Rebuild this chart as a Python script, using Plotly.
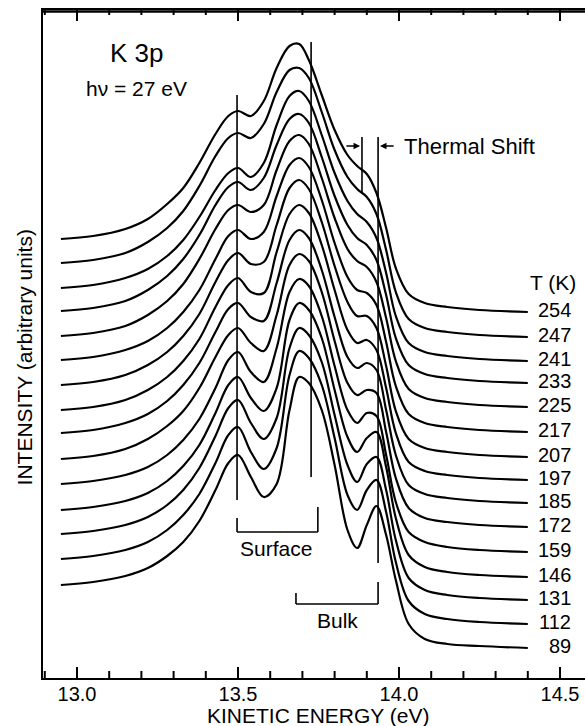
import plotly.graph_objects as go

# Kinetic energy sample points (eV)
energy = [12.95, 13.05, 13.15, 13.22, 13.28, 13.33, 13.38, 13.43, 13.47, 13.50,
          13.54, 13.58, 13.62, 13.66, 13.69, 13.72, 13.76, 13.80, 13.84, 13.87,
          13.90, 13.93, 13.96, 13.99, 14.03, 14.08, 14.15, 14.25, 14.40]

temps = [254, 247, 241, 233, 225, 217, 207, 197, 185, 172, 159, 146, 131, 112, 89]

# Intensity (arbitrary units, stacked as displayed)
i_254 = [461, 464, 471, 481, 496, 512, 537, 566, 584, 589, 584, 599, 632, 654, 656, 640, 605, 570, 545, 534, 526, 507, 472, 432, 406, 397, 393, 390, 388]
i_247 = [437, 440, 447, 458, 472, 489, 514, 544, 562, 567, 562, 576, 608, 630, 632, 622, 588, 550, 523, 511, 503, 486, 450, 408, 381, 372, 368, 365, 363]
i_241 = [412, 415, 422, 431, 444, 460, 483, 510, 527, 532, 523, 537, 575, 604, 609, 599, 565, 527, 499, 486, 478, 462, 427, 384, 357, 348, 344, 341, 339]
i_233 = [389, 392, 399, 410, 424, 441, 465, 495, 513, 518, 510, 522, 555, 581, 586, 577, 543, 504, 475, 462, 455, 440, 405, 362, 335, 326, 322, 319, 317]
i_225 = [364, 367, 374, 385, 399, 416, 441, 471, 490, 495, 488, 495, 530, 559, 565, 556, 522, 482, 451, 439, 433, 418, 382, 339, 311, 302, 298, 295, 293]
i_217 = [340, 343, 350, 359, 372, 388, 410, 441, 464, 470, 461, 468, 504, 535, 542, 533, 500, 457, 423, 410, 407, 395, 358, 314, 286, 277, 273, 270, 268]
i_207 = [315, 318, 325, 335, 348, 364, 386, 418, 440, 447, 436, 438, 475, 512, 520, 511, 478, 434, 398, 384, 384, 372, 334, 289, 261, 252, 248, 245, 243]
i_197 = [290, 293, 300, 310, 323, 339, 361, 393, 415, 422, 408, 407, 448, 486, 495, 487, 455, 410, 370, 357, 360, 350, 312, 267, 238, 229, 225, 222, 220]
i_185 = [267, 270, 277, 286, 299, 315, 337, 368, 391, 397, 383, 379, 417, 460, 470, 462, 430, 383, 343, 332, 337, 330, 290, 245, 215, 206, 202, 199, 197]
i_172 = [241, 244, 251, 261, 274, 289, 312, 343, 365, 372, 357, 349, 385, 435, 446, 439, 408, 359, 317, 305, 310, 307, 268, 222, 192, 182, 178, 175, 173]
i_159 = [216, 219, 225, 233, 245, 260, 281, 312, 340, 348, 328, 318, 352, 408, 421, 414, 384, 334, 290, 277, 287, 284, 245, 198, 168, 158, 153, 150, 148]
i_146 = [190, 193, 199, 207, 219, 234, 255, 287, 315, 323, 302, 289, 312, 380, 397, 390, 362, 310, 263, 248, 262, 268, 233, 182, 145, 133, 128, 125, 123]
i_131 = [166, 169, 175, 183, 195, 210, 232, 264, 292, 300, 277, 261, 282, 352, 372, 365, 338, 285, 235, 218, 236, 243, 210, 160, 122, 110, 105, 102, 100]
i_112 = [141, 144, 150, 158, 170, 185, 206, 237, 265, 273, 248, 231, 252, 325, 349, 342, 315, 262, 205, 190, 210, 220, 188, 138, 99, 86, 81, 78, 76]
i_89 = [115, 118, 124, 132, 144, 158, 179, 210, 237, 245, 223, 203, 216, 290, 323, 317, 290, 235, 170, 152, 175, 194, 165, 120, 76, 61, 56, 54, 52]

spectra = [i_254, i_247, i_241, i_233, i_225, i_217, i_207, i_197,
           i_185, i_172, i_159, i_146, i_131, i_112, i_89]

major_ticks = [13.0, 13.5, 14.0, 14.5]
minor_ticks = [12.9, 13.1, 13.2, 13.3, 13.4, 13.6, 13.7, 13.8, 13.9,
               14.1, 14.2, 14.3, 14.4]

FONT = "Liberation Sans, Arial, Helvetica, sans-serif"
BLACK = "black"
X_RANGE = [12.8944, 14.5776]
Y_RANGE = [22, 690]

fig = go.Figure()
for t, s in zip(temps, spectra):
    fig.add_trace(go.Scatter(x=energy, y=s, mode="lines", name=f"{t} K",
                             line=dict(color=BLACK, width=2.2, shape="spline", smoothing=1.0),
                             hoverinfo="skip"))

# frame top edge and inside tick marks (bottom and top), built from the tick lists
tx, ty = [], []
for v, ln in [(m, 11) for m in major_ticks] + [(m, 7) for m in minor_ticks]:
    tx += [v, v, None, v, v, None]
    ty += [Y_RANGE[0], Y_RANGE[0] + ln, None, Y_RANGE[1], Y_RANGE[1] - (ln - 2), None]
fig.add_trace(go.Scatter(x=tx, y=ty, mode="lines", line=dict(color=BLACK, width=2),
                         hoverinfo="skip", showlegend=False, connectgaps=False))
fig.add_trace(go.Scatter(x=X_RANGE, y=[Y_RANGE[1] - 1.5, Y_RANGE[1] - 1.5], mode="lines",
                         line=dict(color=BLACK, width=2.5), hoverinfo="skip",
                         showlegend=False))

shapes = []
def seg(x0, y0, x1, y1, w=1.6):
    shapes.append(dict(type="line", xref="x", yref="y", x0=x0, y0=y0, x1=x1, y1=y1,
                       line=dict(color=BLACK, width=w)))

# Surface components
seg(13.497, 605, 13.497, 200)
seg(13.727, 658, 13.727, 223)
seg(13.497, 182, 13.497, 168)
seg(13.497, 168, 13.748, 168)
seg(13.748, 168, 13.748, 193)
# Bulk / thermal shift
seg(13.885, 563, 13.885, 508)
seg(13.935, 563, 13.935, 137)
seg(13.680, 107, 13.680, 96)
seg(13.680, 96, 13.935, 96)
seg(13.935, 96, 13.935, 118)

annotations = []
def txt(x, y, text, size=21, xanchor="center", yanchor="middle"):
    annotations.append(dict(x=x, y=y, xref="x", yref="y", text=text, showarrow=False,
                            xanchor=xanchor, yanchor=yanchor,
                            font=dict(family=FONT, size=size, color=BLACK)))

txt(13.186, 647, "K 3p", size=26)
txt(13.186, 612, "hν = 27 eV", size=21)
txt(14.009, 554, "Thermal Shift", size=22, xanchor="left")
txt(13.618, 152, "Surface", size=21)
txt(13.810, 80, "Bulk", size=21)
txt(14.478, 418, "T (K)", size=21)
for t, s in zip(temps, spectra):
    annotations.append(dict(x=14.540, y=s[-1], xref="x", yref="y", text=str(t),
                            showarrow=False, xanchor="right", yanchor="middle", yshift=2,
                            font=dict(family=FONT, size=20, color=BLACK)))

# arrows
annotations.append(dict(x=13.879, y=554, ax=13.832, ay=554, xref="x", yref="y",
                        axref="x", ayref="y", text="", showarrow=True,
                        arrowhead=2, arrowsize=1, arrowwidth=1.3, arrowcolor=BLACK))
annotations.append(dict(x=13.941, y=554, ax=13.988, ay=554, xref="x", yref="y",
                        axref="x", ayref="y", text="", showarrow=True,
                        arrowhead=2, arrowsize=1, arrowwidth=1.3, arrowcolor=BLACK))

# axis titles
annotations.append(dict(x=13.75, y=-0.0565, xref="x", yref="paper", text="KINETIC ENERGY (eV)",
                        showarrow=False, xanchor="center", yanchor="middle",
                        font=dict(family=FONT, size=21, color=BLACK)))
annotations.append(dict(x=-0.035, y=0.48, xref="paper", yref="paper",
                        text="INTENSITY (arbitrary units)", textangle=-90,
                        showarrow=False, xanchor="center", yanchor="middle",
                        font=dict(family=FONT, size=21, color=BLACK)))

fig.update_layout(
    width=585, height=726,
    margin=dict(l=43, r=0, t=10, b=48),
    paper_bgcolor="white", plot_bgcolor="white",
    showlegend=False,
    shapes=shapes, annotations=annotations,
    font=dict(family=FONT, size=21, color=BLACK),
    xaxis=dict(range=X_RANGE, tickmode="array", tickvals=major_ticks,
               ticktext=[f"{v:.1f}" for v in major_ticks],
               ticks="inside", ticklen=11, tickwidth=2, tickcolor=BLACK,
               showline=True, linewidth=2, linecolor=BLACK, mirror="ticks",
               showgrid=False, zeroline=False, ticklabelstandoff=-3,
               tickfont=dict(family=FONT, size=20, color=BLACK)),
    yaxis=dict(range=Y_RANGE, showticklabels=False, ticks="",
               showline=True, linewidth=2, linecolor=BLACK, mirror=False,
               showgrid=False, zeroline=False),
)

fig.write_html("out.html")
